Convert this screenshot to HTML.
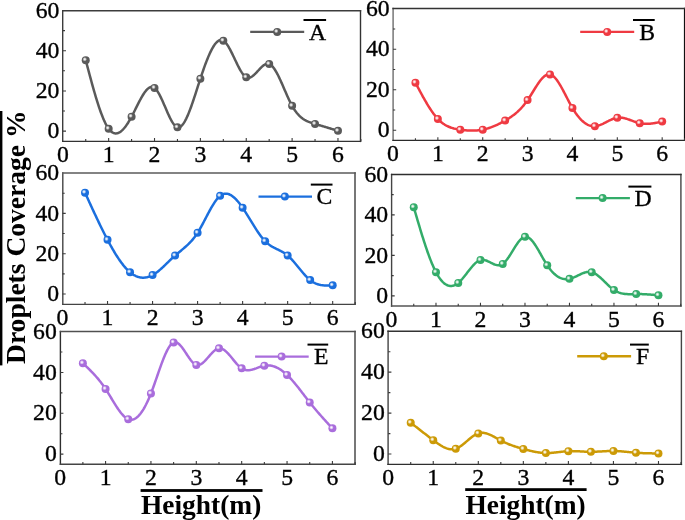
<!DOCTYPE html>
<html><head><meta charset="utf-8"><style>
html,body{margin:0;padding:0;background:#fff;}
svg{display:block;will-change:transform;}
text{font-family:"Liberation Serif",serif;font-size:23.7px;fill:#000;stroke:#000;stroke-width:0.35px;}
.bl{font-weight:bold;font-size:27.2px;stroke:none;}
</style></head><body>
<svg width="685" height="520" viewBox="0 0 685 520">
<defs><radialGradient id="hl"><stop offset="0" stop-color="#fff" stop-opacity="1"/><stop offset="0.35" stop-color="#fff" stop-opacity="0.8"/><stop offset="1" stop-color="#fff" stop-opacity="0"/></radialGradient></defs>
<rect width="685" height="520" fill="#fff"/>
<g>
<path d="M62.7 10V142.1" stroke="#3c3c3c" stroke-width="1.4"/>
<path d="M360.5 10V142.1" stroke="#333" stroke-width="1.4"/>
<path d="M62 10.7H361.2" stroke="#3c3c3c" stroke-width="1.4"/>
<path d="M62 141.4H361.2" stroke="#333" stroke-width="1.4"/>
<path d="M85.73 141.2v-2.2M108.66 141.2v-3.2M131.59 141.2v-2.2M154.52 141.2v-3.2M177.45 141.2v-2.2M200.38 141.2v-3.2M223.32 141.2v-2.2M246.25 141.2v-3.2M269.18 141.2v-2.2M292.11 141.2v-3.2M315.04 141.2v-2.2M337.97 141.2v-3.2M360.9 141.2v-2.2M62.8 131.15h3.2M62.8 111.04h2.2M62.8 90.93h3.2M62.8 70.82h2.2M62.8 50.72h3.2M62.8 30.61h2.2" stroke="#3a3a3a" stroke-width="1.1" fill="none"/>
<text x="62.8" y="161.8" text-anchor="middle">0</text>
<text x="108.66" y="161.8" text-anchor="middle">1</text>
<text x="154.52" y="161.8" text-anchor="middle">2</text>
<text x="200.38" y="161.8" text-anchor="middle">3</text>
<text x="246.25" y="161.8" text-anchor="middle">4</text>
<text x="292.11" y="161.8" text-anchor="middle">5</text>
<text x="337.97" y="161.8" text-anchor="middle">6</text>
<text x="59.4" y="138.35" text-anchor="end">0</text>
<text x="59.4" y="98.13" text-anchor="end">20</text>
<text x="59.4" y="57.92" text-anchor="end">40</text>
<text x="59.4" y="17.7" text-anchor="end">60</text>
<polyline points="85.73,60.17 86.36,62.57 87,64.97 87.63,67.37 88.26,69.76 88.89,72.14 89.52,74.51 90.16,76.87 90.79,79.2 91.42,81.52 92.05,83.82 92.68,86.1 93.32,88.35 93.95,90.57 94.58,92.76 95.21,94.92 95.85,97.04 96.48,99.13 97.11,101.17 97.74,103.18 98.37,105.13 99.01,107.05 99.64,108.91 100.27,110.72 100.9,112.48 101.54,114.18 102.17,115.82 102.8,117.4 103.43,118.92 104.06,120.37 104.7,121.75 105.33,123.07 105.96,124.31 106.59,125.47 107.22,126.56 107.86,127.57 108.49,128.5 109.12,129.34 109.75,130.1 110.39,130.77 111.02,131.37 111.65,131.88 112.28,132.32 112.91,132.68 113.55,132.97 114.18,133.19 114.81,133.33 115.44,133.41 116.08,133.41 116.71,133.35 117.34,133.23 117.97,133.04 118.6,132.79 119.24,132.48 119.87,132.11 120.5,131.69 121.13,131.21 121.76,130.67 122.4,130.09 123.03,129.45 123.66,128.76 124.29,128.03 124.93,127.25 125.56,126.43 126.19,125.57 126.82,124.66 127.45,123.71 128.09,122.73 128.72,121.71 129.35,120.66 129.98,119.57 130.62,118.45 131.25,117.31 131.88,116.13 132.51,114.93 133.14,113.71 133.78,112.47 134.41,111.21 135.04,109.95 135.67,108.68 136.3,107.41 136.94,106.14 137.57,104.88 138.2,103.63 138.83,102.4 139.47,101.18 140.1,99.99 140.73,98.82 141.36,97.68 141.99,96.58 142.63,95.52 143.26,94.5 143.89,93.52 144.52,92.6 145.16,91.73 145.79,90.92 146.42,90.17 147.05,89.49 147.68,88.88 148.32,88.35 148.95,87.89 149.58,87.52 150.21,87.24 150.84,87.04 151.48,86.94 152.11,86.94 152.74,87.04 153.37,87.25 154.01,87.57 154.64,88 155.27,88.55 155.9,89.21 156.53,89.98 157.17,90.83 157.8,91.78 158.43,92.81 159.06,93.92 159.7,95.09 160.33,96.33 160.96,97.62 161.59,98.95 162.22,100.33 162.86,101.74 163.49,103.17 164.12,104.63 164.75,106.1 165.39,107.57 166.02,109.04 166.65,110.5 167.28,111.95 167.91,113.38 168.55,114.77 169.18,116.13 169.81,117.45 170.44,118.71 171.07,119.92 171.71,121.06 172.34,122.14 172.97,123.13 173.6,124.04 174.24,124.85 174.87,125.57 175.5,126.18 176.13,126.68 176.76,127.06 177.4,127.31 178.03,127.43 178.66,127.41 179.29,127.28 179.93,127.01 180.56,126.63 181.19,126.14 181.82,125.54 182.45,124.83 183.09,124.02 183.72,123.11 184.35,122.11 184.98,121.02 185.61,119.85 186.25,118.6 186.88,117.27 187.51,115.87 188.14,114.4 188.78,112.87 189.41,111.28 190.04,109.64 190.67,107.95 191.3,106.21 191.94,104.42 192.57,102.6 193.2,100.75 193.83,98.87 194.47,96.96 195.1,95.03 195.73,93.09 196.36,91.13 196.99,89.17 197.63,87.2 198.26,85.23 198.89,83.26 199.52,81.31 200.15,79.37 200.79,77.44 201.42,75.54 202.05,73.66 202.68,71.8 203.32,69.97 203.95,68.17 204.58,66.41 205.21,64.68 205.84,62.99 206.48,61.33 207.11,59.72 207.74,58.16 208.37,56.64 209.01,55.17 209.64,53.76 210.27,52.4 210.9,51.09 211.53,49.85 212.17,48.67 212.8,47.55 213.43,46.5 214.06,45.52 214.69,44.61 215.33,43.77 215.96,43.02 216.59,42.34 217.22,41.74 217.86,41.23 218.49,40.8 219.12,40.46 219.75,40.22 220.38,40.07 221.02,40.01 221.65,40.06 222.28,40.2 222.91,40.45 223.55,40.8 224.18,41.26 224.81,41.82 225.44,42.47 226.07,43.22 226.71,44.04 227.34,44.93 227.97,45.9 228.6,46.93 229.23,48.02 229.87,49.16 230.5,50.35 231.13,51.57 231.76,52.83 232.4,54.12 233.03,55.43 233.66,56.75 234.29,58.08 234.92,59.42 235.56,60.76 236.19,62.08 236.82,63.4 237.45,64.69 238.09,65.95 238.72,67.19 239.35,68.38 239.98,69.53 240.61,70.63 241.25,71.68 241.88,72.66 242.51,73.57 243.14,74.41 243.77,75.17 244.41,75.85 245.04,76.43 245.67,76.91 246.3,77.29 246.94,77.56 247.57,77.73 248.2,77.8 248.83,77.77 249.46,77.67 250.1,77.48 250.73,77.22 251.36,76.89 251.99,76.5 252.63,76.05 253.26,75.56 253.89,75.02 254.52,74.44 255.15,73.82 255.79,73.18 256.42,72.52 257.05,71.85 257.68,71.16 258.31,70.47 258.95,69.79 259.58,69.11 260.21,68.44 260.84,67.8 261.48,67.18 262.11,66.6 262.74,66.05 263.37,65.55 264,65.09 264.64,64.69 265.27,64.36 265.9,64.09 266.53,63.89 267.17,63.77 267.8,63.74 268.43,63.79 269.06,63.95 269.69,64.2 270.33,64.56 270.96,65.01 271.59,65.55 272.22,66.18 272.86,66.89 273.49,67.68 274.12,68.55 274.75,69.48 275.38,70.48 276.02,71.54 276.65,72.66 277.28,73.83 277.91,75.04 278.54,76.31 279.18,77.61 279.81,78.94 280.44,80.31 281.07,81.7 281.71,83.12 282.34,84.55 282.97,86 283.6,87.46 284.23,88.92 284.87,90.38 285.5,91.84 286.13,93.3 286.76,94.73 287.4,96.16 288.03,97.56 288.66,98.94 289.29,100.28 289.92,101.6 290.56,102.87 291.19,104.1 291.82,105.29 292.45,106.42 293.08,107.51 293.72,108.54 294.35,109.52 294.98,110.45 295.61,111.34 296.25,112.19 296.88,112.99 297.51,113.74 298.14,114.46 298.77,115.14 299.41,115.78 300.04,116.39 300.67,116.96 301.3,117.5 301.94,118 302.57,118.48 303.2,118.93 303.83,119.35 304.46,119.74 305.1,120.11 305.73,120.46 306.36,120.79 306.99,121.09 307.62,121.38 308.26,121.65 308.89,121.91 309.52,122.15 310.15,122.38 310.79,122.6 311.42,122.81 312.05,123.01 312.68,123.21 313.31,123.4 313.95,123.59 314.58,123.77 315.21,123.96 315.84,124.14 316.48,124.33 317.11,124.51 317.74,124.7 318.37,124.89 319,125.08 319.64,125.26 320.27,125.45 320.9,125.64 321.53,125.83 322.16,126.02 322.8,126.21 323.43,126.4 324.06,126.59 324.69,126.78 325.33,126.97 325.96,127.17 326.59,127.36 327.22,127.55 327.85,127.74 328.49,127.94 329.12,128.13 329.75,128.32 330.38,128.51 331.02,128.71 331.65,128.9 332.28,129.1 332.91,129.29 333.54,129.48 334.18,129.68 334.81,129.87 335.44,130.07 336.07,130.26 336.7,130.46 337.34,130.65 337.97,130.84" fill="none" stroke="#5a5a5a" stroke-width="2.5" stroke-linejoin="round" stroke-linecap="round"/>
<circle cx="85.73" cy="60.17" r="4" fill="#5a5a5a"/><circle cx="84.73" cy="59.27" r="2.3" fill="url(#hl)"/>
<circle cx="108.66" cy="128.73" r="4" fill="#5a5a5a"/><circle cx="107.66" cy="127.83" r="2.3" fill="url(#hl)"/>
<circle cx="131.59" cy="116.67" r="4" fill="#5a5a5a"/><circle cx="130.59" cy="115.77" r="2.3" fill="url(#hl)"/>
<circle cx="154.52" cy="87.91" r="4" fill="#5a5a5a"/><circle cx="153.52" cy="87.01" r="2.3" fill="url(#hl)"/>
<circle cx="177.45" cy="127.33" r="4" fill="#5a5a5a"/><circle cx="176.45" cy="126.43" r="2.3" fill="url(#hl)"/>
<circle cx="200.38" cy="78.67" r="4" fill="#5a5a5a"/><circle cx="199.38" cy="77.77" r="2.3" fill="url(#hl)"/>
<circle cx="223.32" cy="40.66" r="4" fill="#5a5a5a"/><circle cx="222.32" cy="39.76" r="2.3" fill="url(#hl)"/>
<circle cx="246.25" cy="77.26" r="4" fill="#5a5a5a"/><circle cx="245.25" cy="76.36" r="2.3" fill="url(#hl)"/>
<circle cx="269.18" cy="63.99" r="4" fill="#5a5a5a"/><circle cx="268.18" cy="63.09" r="2.3" fill="url(#hl)"/>
<circle cx="292.11" cy="105.81" r="4" fill="#5a5a5a"/><circle cx="291.11" cy="104.91" r="2.3" fill="url(#hl)"/>
<circle cx="315.04" cy="123.91" r="4" fill="#5a5a5a"/><circle cx="314.04" cy="123.01" r="2.3" fill="url(#hl)"/>
<circle cx="337.97" cy="130.84" r="4" fill="#5a5a5a"/><circle cx="336.97" cy="129.94" r="2.3" fill="url(#hl)"/>
<path d="M250.2 31.9H304.2" stroke="#5a5a5a" stroke-width="2.4"/>
<circle cx="277.2" cy="31.9" r="4" fill="#5a5a5a"/><circle cx="276.2" cy="31" r="2.3" fill="url(#hl)"/>
<text x="309.1" y="39.8">A</text>
<rect x="303.5" y="19" width="22.6" height="2" fill="#000"/>
<path d="M393.1 7.8V141.05" stroke="#777" stroke-width="1.5"/>
<path d="M684.5 7.8V141.05" stroke="#111" stroke-width="1.2"/>
<path d="M392.35 8.5H685.1" stroke="#333" stroke-width="1.4"/>
<path d="M392.35 140.35H685.1" stroke="#2a2a2a" stroke-width="1.4"/>
<path d="M415.43 140.4v-2.2M437.86 140.4v-3.2M460.29 140.4v-2.2M482.72 140.4v-3.2M505.15 140.4v-2.2M527.58 140.4v-3.2M550.02 140.4v-2.2M572.45 140.4v-3.2M594.88 140.4v-2.2M617.31 140.4v-3.2M639.74 140.4v-2.2M662.17 140.4v-3.2M684.6 140.4v-2.2M393 130.28h3.2M393 110.03h2.2M393 89.78h3.2M393 69.54h2.2M393 49.29h3.2M393 29.05h2.2" stroke="#3a3a3a" stroke-width="1.1" fill="none"/>
<text x="393" y="161" text-anchor="middle">0</text>
<text x="437.86" y="161" text-anchor="middle">1</text>
<text x="482.72" y="161" text-anchor="middle">2</text>
<text x="527.58" y="161" text-anchor="middle">3</text>
<text x="572.45" y="161" text-anchor="middle">4</text>
<text x="617.31" y="161" text-anchor="middle">5</text>
<text x="662.17" y="161" text-anchor="middle">6</text>
<text x="389.6" y="137.48" text-anchor="end">0</text>
<text x="389.6" y="96.98" text-anchor="end">20</text>
<text x="389.6" y="56.49" text-anchor="end">40</text>
<text x="389.6" y="16" text-anchor="end">60</text>
<polyline points="415.43,82.7 416.05,83.87 416.67,85.04 417.29,86.21 417.9,87.37 418.52,88.53 419.14,89.69 419.76,90.85 420.38,91.99 421,93.14 421.61,94.27 422.23,95.4 422.85,96.52 423.47,97.63 424.09,98.73 424.71,99.81 425.33,100.89 425.94,101.96 426.56,103.01 427.18,104.04 427.8,105.06 428.42,106.07 429.04,107.06 429.65,108.03 430.27,108.99 430.89,109.92 431.51,110.84 432.13,111.74 432.75,112.61 433.36,113.46 433.98,114.3 434.6,115.1 435.22,115.89 435.84,116.64 436.46,117.38 437.07,118.08 437.69,118.76 438.31,119.41 438.93,120.03 439.55,120.63 440.17,121.2 440.78,121.74 441.4,122.26 442.02,122.75 442.64,123.22 443.26,123.67 443.88,124.09 444.5,124.5 445.11,124.88 445.73,125.24 446.35,125.58 446.97,125.91 447.59,126.21 448.21,126.5 448.82,126.78 449.44,127.03 450.06,127.27 450.68,127.5 451.3,127.71 451.92,127.91 452.53,128.1 453.15,128.27 453.77,128.44 454.39,128.59 455.01,128.73 455.63,128.87 456.24,129 456.86,129.12 457.48,129.23 458.1,129.33 458.72,129.43 459.34,129.53 459.96,129.62 460.57,129.71 461.19,129.79 461.81,129.88 462.43,129.95 463.05,130.03 463.67,130.1 464.28,130.17 464.9,130.23 465.52,130.29 466.14,130.35 466.76,130.4 467.38,130.44 467.99,130.48 468.61,130.52 469.23,130.55 469.85,130.58 470.47,130.6 471.09,130.61 471.7,130.62 472.32,130.62 472.94,130.62 473.56,130.61 474.18,130.6 474.8,130.58 475.41,130.55 476.03,130.51 476.65,130.47 477.27,130.42 477.89,130.37 478.51,130.31 479.13,130.24 479.74,130.16 480.36,130.07 480.98,129.98 481.6,129.88 482.22,129.77 482.84,129.65 483.45,129.52 484.07,129.39 484.69,129.24 485.31,129.09 485.93,128.93 486.55,128.76 487.16,128.59 487.78,128.4 488.4,128.21 489.02,128.01 489.64,127.81 490.26,127.6 490.87,127.38 491.49,127.15 492.11,126.91 492.73,126.67 493.35,126.42 493.97,126.17 494.58,125.91 495.2,125.64 495.82,125.37 496.44,125.09 497.06,124.8 497.68,124.51 498.3,124.22 498.91,123.91 499.53,123.6 500.15,123.29 500.77,122.97 501.39,122.64 502.01,122.31 502.62,121.98 503.24,121.64 503.86,121.29 504.48,120.95 505.1,120.59 505.72,120.23 506.33,119.87 506.95,119.5 507.57,119.12 508.19,118.74 508.81,118.35 509.43,117.96 510.04,117.55 510.66,117.13 511.28,116.71 511.9,116.28 512.52,115.83 513.14,115.37 513.76,114.91 514.37,114.43 514.99,113.93 515.61,113.42 516.23,112.9 516.85,112.37 517.47,111.81 518.08,111.25 518.7,110.66 519.32,110.06 519.94,109.44 520.56,108.81 521.18,108.15 521.79,107.47 522.41,106.78 523.03,106.06 523.65,105.33 524.27,104.57 524.89,103.79 525.5,102.99 526.12,102.16 526.74,101.31 527.36,100.43 527.98,99.53 528.6,98.61 529.21,97.67 529.83,96.71 530.45,95.73 531.07,94.74 531.69,93.75 532.31,92.75 532.93,91.74 533.54,90.74 534.16,89.74 534.78,88.74 535.4,87.75 536.02,86.78 536.64,85.82 537.25,84.88 537.87,83.96 538.49,83.06 539.11,82.19 539.73,81.35 540.35,80.54 540.96,79.77 541.58,79.04 542.2,78.34 542.82,77.7 543.44,77.09 544.06,76.54 544.67,76.05 545.29,75.61 545.91,75.22 546.53,74.9 547.15,74.65 547.77,74.46 548.39,74.34 549,74.3 549.62,74.33 550.24,74.45 550.86,74.64 551.48,74.91 552.1,75.26 552.71,75.68 553.33,76.16 553.95,76.71 554.57,77.32 555.19,77.99 555.81,78.72 556.42,79.5 557.04,80.33 557.66,81.2 558.28,82.12 558.9,83.08 559.52,84.07 560.13,85.1 560.75,86.17 561.37,87.25 561.99,88.37 562.61,89.5 563.23,90.66 563.84,91.83 564.46,93.01 565.08,94.2 565.7,95.4 566.32,96.6 566.94,97.8 567.56,99 568.17,100.19 568.79,101.37 569.41,102.54 570.03,103.7 570.65,104.83 571.27,105.95 571.88,107.04 572.5,108.1 573.12,109.13 573.74,110.14 574.36,111.11 574.98,112.05 575.59,112.96 576.21,113.84 576.83,114.69 577.45,115.51 578.07,116.3 578.69,117.06 579.3,117.78 579.92,118.48 580.54,119.15 581.16,119.79 581.78,120.4 582.4,120.97 583.02,121.52 583.63,122.04 584.25,122.53 584.87,122.98 585.49,123.41 586.11,123.81 586.73,124.18 587.34,124.51 587.96,124.82 588.58,125.1 589.2,125.34 589.82,125.56 590.44,125.75 591.05,125.91 591.67,126.04 592.29,126.14 592.91,126.21 593.53,126.24 594.15,126.25 594.76,126.23 595.38,126.19 596,126.11 596.62,126 597.24,125.87 597.86,125.72 598.47,125.54 599.09,125.35 599.71,125.13 600.33,124.9 600.95,124.65 601.57,124.39 602.19,124.12 602.8,123.83 603.42,123.54 604.04,123.23 604.66,122.92 605.28,122.61 605.9,122.29 606.51,121.97 607.13,121.65 607.75,121.33 608.37,121.01 608.99,120.7 609.61,120.4 610.22,120.1 610.84,119.81 611.46,119.53 612.08,119.26 612.7,119.01 613.32,118.78 613.93,118.56 614.55,118.35 615.17,118.17 615.79,118.01 616.41,117.88 617.03,117.77 617.64,117.68 618.26,117.62 618.88,117.59 619.5,117.58 620.12,117.59 620.74,117.63 621.36,117.68 621.97,117.76 622.59,117.85 623.21,117.96 623.83,118.09 624.45,118.23 625.07,118.39 625.68,118.56 626.3,118.73 626.92,118.92 627.54,119.12 628.16,119.33 628.78,119.54 629.39,119.76 630.01,119.99 630.63,120.21 631.25,120.44 631.87,120.67 632.49,120.9 633.1,121.13 633.72,121.36 634.34,121.58 634.96,121.8 635.58,122.01 636.2,122.21 636.82,122.41 637.43,122.6 638.05,122.77 638.67,122.94 639.29,123.09 639.91,123.23 640.53,123.35 641.14,123.46 641.76,123.55 642.38,123.64 643,123.7 643.62,123.76 644.24,123.8 644.85,123.84 645.47,123.86 646.09,123.87 646.71,123.86 647.33,123.85 647.95,123.83 648.56,123.8 649.18,123.76 649.8,123.71 650.42,123.66 651.04,123.59 651.66,123.52 652.27,123.44 652.89,123.36 653.51,123.26 654.13,123.17 654.75,123.07 655.37,122.96 655.99,122.85 656.6,122.73 657.22,122.61 657.84,122.49 658.46,122.36 659.08,122.23 659.7,122.1 660.31,121.97 660.93,121.84 661.55,121.71 662.17,121.57" fill="none" stroke="#ef3a42" stroke-width="2.5" stroke-linejoin="round" stroke-linecap="round"/>
<circle cx="415.43" cy="82.7" r="4" fill="#ef3a42"/><circle cx="414.43" cy="81.8" r="2.3" fill="url(#hl)"/>
<circle cx="437.86" cy="118.94" r="4" fill="#ef3a42"/><circle cx="436.86" cy="118.04" r="2.3" fill="url(#hl)"/>
<circle cx="460.29" cy="129.67" r="4" fill="#ef3a42"/><circle cx="459.29" cy="128.77" r="2.3" fill="url(#hl)"/>
<circle cx="482.72" cy="129.67" r="4" fill="#ef3a42"/><circle cx="481.72" cy="128.77" r="2.3" fill="url(#hl)"/>
<circle cx="505.15" cy="120.56" r="4" fill="#ef3a42"/><circle cx="504.15" cy="119.66" r="2.3" fill="url(#hl)"/>
<circle cx="527.58" cy="100.11" r="4" fill="#ef3a42"/><circle cx="526.58" cy="99.21" r="2.3" fill="url(#hl)"/>
<circle cx="550.02" cy="74.4" r="4" fill="#ef3a42"/><circle cx="549.02" cy="73.5" r="2.3" fill="url(#hl)"/>
<circle cx="572.45" cy="108.01" r="4" fill="#ef3a42"/><circle cx="571.45" cy="107.11" r="2.3" fill="url(#hl)"/>
<circle cx="594.88" cy="126.23" r="4" fill="#ef3a42"/><circle cx="593.88" cy="125.33" r="2.3" fill="url(#hl)"/>
<circle cx="617.31" cy="117.72" r="4" fill="#ef3a42"/><circle cx="616.31" cy="116.82" r="2.3" fill="url(#hl)"/>
<circle cx="639.74" cy="123.19" r="4" fill="#ef3a42"/><circle cx="638.74" cy="122.29" r="2.3" fill="url(#hl)"/>
<circle cx="662.17" cy="121.57" r="4" fill="#ef3a42"/><circle cx="661.17" cy="120.67" r="2.3" fill="url(#hl)"/>
<path d="M580.2 31.9H634.2" stroke="#ef3a42" stroke-width="2.4"/>
<circle cx="607.2" cy="31.9" r="4" fill="#ef3a42"/><circle cx="606.2" cy="31" r="2.3" fill="url(#hl)"/>
<text x="639.3" y="39.8">B</text>
<rect x="633" y="19" width="21.7" height="2" fill="#000"/>
<path d="M62.8 172.2V305.1" stroke="#444" stroke-width="1.4"/>
<path d="M355 172.2V305.1" stroke="#555" stroke-width="1.6"/>
<path d="M62.1 173H355.8" stroke="#5a5a5a" stroke-width="1.6"/>
<path d="M62.1 304.4H355.8" stroke="#444" stroke-width="1.4"/>
<path d="M85.02 304.1v-2.2M107.53 304.1v-3.2M130.05 304.1v-2.2M152.56 304.1v-3.2M175.08 304.1v-2.2M197.59 304.1v-3.2M220.11 304.1v-2.2M242.62 304.1v-3.2M265.14 304.1v-2.2M287.65 304.1v-3.2M310.17 304.1v-2.2M332.68 304.1v-3.2M355.2 304.1v-2.2M62.5 294.02h3.2M62.5 273.87h2.2M62.5 253.72h3.2M62.5 233.56h2.2M62.5 213.41h3.2M62.5 193.25h2.2" stroke="#3a3a3a" stroke-width="1.1" fill="none"/>
<text x="62.5" y="324.7" text-anchor="middle">0</text>
<text x="107.53" y="324.7" text-anchor="middle">1</text>
<text x="152.56" y="324.7" text-anchor="middle">2</text>
<text x="197.59" y="324.7" text-anchor="middle">3</text>
<text x="242.62" y="324.7" text-anchor="middle">4</text>
<text x="287.65" y="324.7" text-anchor="middle">5</text>
<text x="332.68" y="324.7" text-anchor="middle">6</text>
<text x="59.1" y="301.22" text-anchor="end">0</text>
<text x="59.1" y="260.92" text-anchor="end">20</text>
<text x="59.1" y="220.61" text-anchor="end">40</text>
<text x="59.1" y="180.3" text-anchor="end">60</text>
<polyline points="85.02,192.65 85.64,194.01 86.26,195.37 86.88,196.74 87.5,198.1 88.12,199.46 88.74,200.81 89.36,202.17 89.98,203.53 90.6,204.88 91.22,206.23 91.84,207.57 92.46,208.92 93.08,210.26 93.71,211.59 94.33,212.93 94.95,214.26 95.57,215.58 96.19,216.9 96.81,218.21 97.43,219.52 98.05,220.82 98.67,222.12 99.29,223.41 99.91,224.69 100.53,225.97 101.15,227.24 101.77,228.5 102.4,229.76 103.02,231.01 103.64,232.25 104.26,233.48 104.88,234.7 105.5,235.91 106.12,237.11 106.74,238.31 107.36,239.49 107.98,240.66 108.6,241.82 109.22,242.97 109.84,244.11 110.47,245.24 111.09,246.36 111.71,247.46 112.33,248.55 112.95,249.63 113.57,250.69 114.19,251.74 114.81,252.77 115.43,253.79 116.05,254.79 116.67,255.77 117.29,256.74 117.91,257.69 118.53,258.63 119.16,259.54 119.78,260.44 120.4,261.32 121.02,262.18 121.64,263.02 122.26,263.84 122.88,264.64 123.5,265.42 124.12,266.18 124.74,266.91 125.36,267.63 125.98,268.32 126.6,268.99 127.22,269.63 127.85,270.25 128.47,270.85 129.09,271.42 129.71,271.97 130.33,272.49 130.95,272.99 131.57,273.46 132.19,273.9 132.81,274.32 133.43,274.71 134.05,275.08 134.67,275.43 135.29,275.74 135.91,276.04 136.54,276.31 137.16,276.55 137.78,276.77 138.4,276.97 139.02,277.14 139.64,277.29 140.26,277.41 140.88,277.51 141.5,277.59 142.12,277.64 142.74,277.67 143.36,277.67 143.98,277.65 144.6,277.61 145.23,277.55 145.85,277.46 146.47,277.35 147.09,277.22 147.71,277.06 148.33,276.88 148.95,276.68 149.57,276.46 150.19,276.21 150.81,275.95 151.43,275.66 152.05,275.35 152.67,275.02 153.3,274.66 153.92,274.29 154.54,273.9 155.16,273.48 155.78,273.05 156.4,272.6 157.02,272.14 157.64,271.66 158.26,271.17 158.88,270.66 159.5,270.14 160.12,269.61 160.74,269.07 161.36,268.52 161.99,267.95 162.61,267.38 163.23,266.81 163.85,266.22 164.47,265.63 165.09,265.04 165.71,264.44 166.33,263.84 166.95,263.23 167.57,262.63 168.19,262.02 168.81,261.42 169.43,260.81 170.05,260.21 170.68,259.61 171.3,259.02 171.92,258.43 172.54,257.84 173.16,257.27 173.78,256.69 174.4,256.13 175.02,255.58 175.64,255.04 176.26,254.5 176.88,253.97 177.5,253.45 178.12,252.94 178.74,252.43 179.37,251.92 179.99,251.42 180.61,250.91 181.23,250.41 181.85,249.9 182.47,249.39 183.09,248.87 183.71,248.35 184.33,247.83 184.95,247.29 185.57,246.75 186.19,246.19 186.81,245.63 187.43,245.05 188.06,244.46 188.68,243.85 189.3,243.23 189.92,242.59 190.54,241.93 191.16,241.25 191.78,240.55 192.4,239.83 193.02,239.08 193.64,238.31 194.26,237.52 194.88,236.69 195.5,235.84 196.13,234.96 196.75,234.05 197.37,233.11 197.99,232.13 198.61,231.12 199.23,230.09 199.85,229.02 200.47,227.93 201.09,226.82 201.71,225.7 202.33,224.55 202.95,223.39 203.57,222.22 204.19,221.04 204.82,219.86 205.44,218.67 206.06,217.48 206.68,216.29 207.3,215.1 207.92,213.93 208.54,212.76 209.16,211.6 209.78,210.46 210.4,209.33 211.02,208.22 211.64,207.14 212.26,206.08 212.88,205.05 213.51,204.04 214.13,203.07 214.75,202.14 215.37,201.24 215.99,200.38 216.61,199.56 217.23,198.79 217.85,198.06 218.47,197.39 219.09,196.77 219.71,196.2 220.33,195.7 220.95,195.25 221.57,194.86 222.2,194.52 222.82,194.24 223.44,194.02 224.06,193.85 224.68,193.73 225.3,193.66 225.92,193.64 226.54,193.67 227.16,193.75 227.78,193.88 228.4,194.05 229.02,194.26 229.64,194.52 230.27,194.82 230.89,195.16 231.51,195.54 232.13,195.96 232.75,196.41 233.37,196.9 233.99,197.43 234.61,197.99 235.23,198.59 235.85,199.21 236.47,199.87 237.09,200.55 237.71,201.26 238.33,202 238.96,202.77 239.58,203.56 240.2,204.38 240.82,205.21 241.44,206.07 242.06,206.95 242.68,207.85 243.3,208.76 243.92,209.69 244.54,210.64 245.16,211.6 245.78,212.57 246.4,213.56 247.02,214.55 247.65,215.55 248.27,216.56 248.89,217.57 249.51,218.59 250.13,219.61 250.75,220.63 251.37,221.65 251.99,222.66 252.61,223.68 253.23,224.69 253.85,225.69 254.47,226.69 255.09,227.67 255.71,228.65 256.34,229.62 256.96,230.57 257.58,231.51 258.2,232.43 258.82,233.33 259.44,234.22 260.06,235.08 260.68,235.92 261.3,236.74 261.92,237.54 262.54,238.31 263.16,239.05 263.78,239.77 264.4,240.45 265.03,241.1 265.65,241.72 266.27,242.31 266.89,242.87 267.51,243.4 268.13,243.9 268.75,244.38 269.37,244.84 269.99,245.27 270.61,245.68 271.23,246.08 271.85,246.45 272.47,246.82 273.1,247.16 273.72,247.5 274.34,247.83 274.96,248.15 275.58,248.46 276.2,248.76 276.82,249.07 277.44,249.37 278.06,249.67 278.68,249.97 279.3,250.28 279.92,250.59 280.54,250.9 281.16,251.23 281.79,251.56 282.41,251.91 283.03,252.27 283.65,252.64 284.27,253.03 284.89,253.44 285.51,253.87 286.13,254.32 286.75,254.8 287.37,255.29 287.99,255.82 288.61,256.37 289.23,256.95 289.85,257.54 290.48,258.16 291.1,258.81 291.72,259.47 292.34,260.14 292.96,260.83 293.58,261.54 294.2,262.26 294.82,262.99 295.44,263.73 296.06,264.47 296.68,265.23 297.3,265.98 297.92,266.75 298.54,267.51 299.17,268.27 299.79,269.03 300.41,269.79 301.03,270.54 301.65,271.29 302.27,272.03 302.89,272.76 303.51,273.48 304.13,274.19 304.75,274.88 305.37,275.56 305.99,276.22 306.61,276.87 307.23,277.49 307.86,278.09 308.48,278.67 309.1,279.22 309.72,279.75 310.34,280.25 310.96,280.72 311.58,281.17 312.2,281.58 312.82,281.97 313.44,282.34 314.06,282.68 314.68,282.99 315.3,283.29 315.93,283.56 316.55,283.81 317.17,284.04 317.79,284.24 318.41,284.43 319.03,284.61 319.65,284.76 320.27,284.9 320.89,285.02 321.51,285.12 322.13,285.22 322.75,285.29 323.37,285.36 323.99,285.41 324.62,285.46 325.24,285.49 325.86,285.51 326.48,285.52 327.1,285.53 327.72,285.53 328.34,285.52 328.96,285.51 329.58,285.49 330.2,285.47 330.82,285.44 331.44,285.42 332.06,285.39 332.68,285.36" fill="none" stroke="#1b6fde" stroke-width="2.5" stroke-linejoin="round" stroke-linecap="round"/>
<circle cx="85.02" cy="192.65" r="4" fill="#1b6fde"/><circle cx="84.02" cy="191.75" r="2.3" fill="url(#hl)"/>
<circle cx="107.53" cy="239.81" r="4" fill="#1b6fde"/><circle cx="106.53" cy="238.91" r="2.3" fill="url(#hl)"/>
<circle cx="130.05" cy="272.26" r="4" fill="#1b6fde"/><circle cx="129.05" cy="271.36" r="2.3" fill="url(#hl)"/>
<circle cx="152.56" cy="275.08" r="4" fill="#1b6fde"/><circle cx="151.56" cy="274.18" r="2.3" fill="url(#hl)"/>
<circle cx="175.08" cy="255.53" r="4" fill="#1b6fde"/><circle cx="174.08" cy="254.63" r="2.3" fill="url(#hl)"/>
<circle cx="197.59" cy="232.76" r="4" fill="#1b6fde"/><circle cx="196.59" cy="231.86" r="2.3" fill="url(#hl)"/>
<circle cx="220.11" cy="195.87" r="4" fill="#1b6fde"/><circle cx="219.11" cy="194.97" r="2.3" fill="url(#hl)"/>
<circle cx="242.62" cy="207.76" r="4" fill="#1b6fde"/><circle cx="241.62" cy="206.86" r="2.3" fill="url(#hl)"/>
<circle cx="265.14" cy="241.22" r="4" fill="#1b6fde"/><circle cx="264.14" cy="240.32" r="2.3" fill="url(#hl)"/>
<circle cx="287.65" cy="255.53" r="4" fill="#1b6fde"/><circle cx="286.65" cy="254.63" r="2.3" fill="url(#hl)"/>
<circle cx="310.17" cy="280.12" r="4" fill="#1b6fde"/><circle cx="309.17" cy="279.22" r="2.3" fill="url(#hl)"/>
<circle cx="332.68" cy="285.36" r="4" fill="#1b6fde"/><circle cx="331.68" cy="284.46" r="2.3" fill="url(#hl)"/>
<path d="M258.5 196.6H312" stroke="#1b6fde" stroke-width="2.4"/>
<circle cx="284.9" cy="196.6" r="4" fill="#1b6fde"/><circle cx="283.9" cy="195.7" r="2.3" fill="url(#hl)"/>
<text x="316.6" y="204">C</text>
<rect x="310.8" y="183.6" width="21.7" height="2" fill="#000"/>
<path d="M391.6 173.8V306.85" stroke="#444" stroke-width="1.4"/>
<path d="M680.9 173.8V306.85" stroke="#505050" stroke-width="1.5"/>
<path d="M390.9 174.5H681.65" stroke="#2e2e2e" stroke-width="1.4"/>
<path d="M390.9 306.05H681.65" stroke="#555" stroke-width="1.6"/>
<path d="M413.75 306v-2.2M435.99 306v-3.2M458.24 306v-2.2M480.48 306v-3.2M502.73 306v-2.2M524.98 306v-3.2M547.22 306v-2.2M569.47 306v-3.2M591.72 306v-2.2M613.96 306v-3.2M636.21 306v-2.2M658.45 306v-3.2M680.7 306v-2.2M391.5 295.88h3.2M391.5 275.63h2.2M391.5 255.38h3.2M391.5 235.14h2.2M391.5 214.89h3.2M391.5 194.65h2.2" stroke="#3a3a3a" stroke-width="1.1" fill="none"/>
<text x="391.5" y="326.6" text-anchor="middle">0</text>
<text x="435.99" y="326.6" text-anchor="middle">1</text>
<text x="480.48" y="326.6" text-anchor="middle">2</text>
<text x="524.98" y="326.6" text-anchor="middle">3</text>
<text x="569.47" y="326.6" text-anchor="middle">4</text>
<text x="613.96" y="326.6" text-anchor="middle">5</text>
<text x="658.45" y="326.6" text-anchor="middle">6</text>
<text x="388.1" y="303.08" text-anchor="end">0</text>
<text x="388.1" y="262.58" text-anchor="end">20</text>
<text x="388.1" y="222.09" text-anchor="end">40</text>
<text x="388.1" y="181.6" text-anchor="end">60</text>
<polyline points="413.75,207.2 414.36,209.3 414.97,211.41 415.59,213.51 416.2,215.6 416.81,217.7 417.43,219.78 418.04,221.85 418.65,223.92 419.27,225.97 419.88,228.01 420.49,230.04 421.11,232.05 421.72,234.04 422.33,236.02 422.95,237.97 423.56,239.91 424.17,241.82 424.79,243.7 425.4,245.56 426.01,247.4 426.63,249.2 427.24,250.98 427.85,252.72 428.47,254.43 429.08,256.11 429.69,257.75 430.31,259.35 430.92,260.91 431.53,262.44 432.15,263.92 432.76,265.36 433.37,266.76 433.99,268.11 434.6,269.41 435.21,270.67 435.83,271.87 436.44,273.02 437.05,274.12 437.66,275.17 438.28,276.17 438.89,277.12 439.5,278.02 440.12,278.87 440.73,279.67 441.34,280.41 441.96,281.11 442.57,281.77 443.18,282.37 443.8,282.92 444.41,283.43 445.02,283.89 445.64,284.3 446.25,284.67 446.86,284.99 447.48,285.26 448.09,285.49 448.7,285.67 449.32,285.81 449.93,285.9 450.54,285.95 451.16,285.96 451.77,285.92 452.38,285.83 453,285.71 453.61,285.54 454.22,285.33 454.84,285.07 455.45,284.78 456.06,284.44 456.68,284.06 457.29,283.65 457.9,283.19 458.52,282.69 459.13,282.15 459.74,281.58 460.36,280.97 460.97,280.33 461.58,279.66 462.2,278.97 462.81,278.26 463.42,277.53 464.04,276.78 464.65,276.01 465.26,275.23 465.88,274.45 466.49,273.66 467.1,272.86 467.72,272.07 468.33,271.27 468.94,270.49 469.56,269.7 470.17,268.93 470.78,268.18 471.4,267.43 472.01,266.71 472.62,266.01 473.24,265.33 473.85,264.67 474.46,264.05 475.08,263.46 475.69,262.9 476.3,262.38 476.92,261.9 477.53,261.46 478.14,261.07 478.76,260.73 479.37,260.43 479.98,260.19 480.6,260.01 481.21,259.89 481.82,259.82 482.44,259.8 483.05,259.82 483.66,259.89 484.28,260 484.89,260.15 485.5,260.33 486.12,260.54 486.73,260.77 487.34,261.02 487.96,261.3 488.57,261.59 489.18,261.89 489.8,262.19 490.41,262.5 491.02,262.81 491.64,263.12 492.25,263.42 492.86,263.71 493.48,263.98 494.09,264.24 494.7,264.47 495.32,264.68 495.93,264.86 496.54,265.01 497.16,265.13 497.77,265.2 498.38,265.23 499,265.21 499.61,265.14 500.22,265.02 500.84,264.84 501.45,264.6 502.06,264.3 502.68,263.93 503.29,263.48 503.9,262.97 504.51,262.39 505.13,261.75 505.74,261.06 506.35,260.32 506.97,259.53 507.58,258.7 508.19,257.84 508.81,256.94 509.42,256.01 510.03,255.06 510.65,254.09 511.26,253.11 511.87,252.11 512.49,251.11 513.1,250.11 513.71,249.11 514.33,248.12 514.94,247.14 515.55,246.18 516.17,245.24 516.78,244.33 517.39,243.44 518.01,242.59 518.62,241.78 519.23,241.01 519.85,240.29 520.46,239.62 521.07,239.01 521.69,238.47 522.3,237.98 522.91,237.57 523.53,237.23 524.14,236.97 524.75,236.8 525.37,236.71 525.98,236.71 526.59,236.8 527.21,236.97 527.82,237.21 528.43,237.53 529.05,237.92 529.66,238.37 530.27,238.89 530.89,239.47 531.5,240.11 532.11,240.8 532.73,241.55 533.34,242.34 533.95,243.17 534.57,244.04 535.18,244.95 535.79,245.89 536.41,246.87 537.02,247.87 537.63,248.89 538.25,249.93 538.86,250.99 539.47,252.06 540.09,253.15 540.7,254.23 541.31,255.32 541.93,256.42 542.54,257.5 543.15,258.58 543.77,259.65 544.38,260.7 544.99,261.74 545.61,262.75 546.22,263.74 546.83,264.71 547.45,265.64 548.06,266.54 548.67,267.41 549.29,268.24 549.9,269.04 550.51,269.81 551.13,270.54 551.74,271.25 552.35,271.92 552.97,272.56 553.58,273.17 554.19,273.75 554.81,274.3 555.42,274.82 556.03,275.31 556.65,275.77 557.26,276.19 557.87,276.59 558.49,276.96 559.1,277.3 559.71,277.61 560.33,277.9 560.94,278.15 561.55,278.38 562.17,278.58 562.78,278.75 563.39,278.89 564.01,279 564.62,279.09 565.23,279.16 565.85,279.19 566.46,279.2 567.07,279.18 567.69,279.14 568.3,279.07 568.91,278.98 569.52,278.86 570.14,278.71 570.75,278.55 571.36,278.36 571.98,278.15 572.59,277.93 573.2,277.69 573.82,277.43 574.43,277.17 575.04,276.89 575.66,276.6 576.27,276.31 576.88,276.02 577.5,275.72 578.11,275.42 578.72,275.11 579.34,274.82 579.95,274.52 580.56,274.24 581.18,273.96 581.79,273.69 582.4,273.43 583.02,273.18 583.63,272.95 584.24,272.74 584.86,272.54 585.47,272.37 586.08,272.22 586.7,272.09 587.31,271.99 587.92,271.92 588.54,271.87 589.15,271.86 589.76,271.88 590.38,271.94 590.99,272.03 591.6,272.16 592.22,272.33 592.83,272.54 593.44,272.79 594.06,273.08 594.67,273.39 595.28,273.74 595.9,274.12 596.51,274.53 597.12,274.97 597.74,275.43 598.35,275.91 598.96,276.41 599.58,276.93 600.19,277.47 600.8,278.02 601.42,278.59 602.03,279.16 602.64,279.75 603.26,280.34 603.87,280.95 604.48,281.55 605.1,282.16 605.71,282.76 606.32,283.37 606.94,283.97 607.55,284.56 608.16,285.15 608.78,285.73 609.39,286.3 610,286.86 610.62,287.4 611.23,287.92 611.84,288.43 612.46,288.91 613.07,289.38 613.68,289.81 614.3,290.23 614.91,290.61 615.52,290.98 616.14,291.31 616.75,291.63 617.36,291.92 617.98,292.18 618.59,292.43 619.2,292.66 619.82,292.86 620.43,293.05 621.04,293.22 621.66,293.37 622.27,293.51 622.88,293.63 623.5,293.74 624.11,293.83 624.72,293.91 625.34,293.97 625.95,294.03 626.56,294.07 627.18,294.11 627.79,294.14 628.4,294.16 629.02,294.17 629.63,294.17 630.24,294.17 630.86,294.17 631.47,294.16 632.08,294.15 632.7,294.13 633.31,294.12 633.92,294.1 634.54,294.09 635.15,294.07 635.76,294.06 636.37,294.05 636.99,294.05 637.6,294.04 638.21,294.05 638.83,294.05 639.44,294.06 640.05,294.07 640.67,294.08 641.28,294.09 641.89,294.11 642.51,294.13 643.12,294.16 643.73,294.18 644.35,294.21 644.96,294.24 645.57,294.27 646.19,294.31 646.8,294.34 647.41,294.38 648.03,294.42 648.64,294.46 649.25,294.51 649.87,294.55 650.48,294.6 651.09,294.64 651.71,294.69 652.32,294.74 652.93,294.79 653.55,294.84 654.16,294.89 654.77,294.95 655.39,295 656,295.05 656.61,295.11 657.23,295.16 657.84,295.22 658.45,295.27" fill="none" stroke="#33ac69" stroke-width="2.5" stroke-linejoin="round" stroke-linecap="round"/>
<circle cx="413.75" cy="207.2" r="4" fill="#33ac69"/><circle cx="412.75" cy="206.3" r="2.3" fill="url(#hl)"/>
<circle cx="435.99" cy="272.19" r="4" fill="#33ac69"/><circle cx="434.99" cy="271.29" r="2.3" fill="url(#hl)"/>
<circle cx="458.24" cy="282.92" r="4" fill="#33ac69"/><circle cx="457.24" cy="282.02" r="2.3" fill="url(#hl)"/>
<circle cx="480.48" cy="260.04" r="4" fill="#33ac69"/><circle cx="479.48" cy="259.14" r="2.3" fill="url(#hl)"/>
<circle cx="502.73" cy="263.89" r="4" fill="#33ac69"/><circle cx="501.73" cy="262.99" r="2.3" fill="url(#hl)"/>
<circle cx="524.98" cy="236.76" r="4" fill="#33ac69"/><circle cx="523.98" cy="235.86" r="2.3" fill="url(#hl)"/>
<circle cx="547.22" cy="265.31" r="4" fill="#33ac69"/><circle cx="546.22" cy="264.41" r="2.3" fill="url(#hl)"/>
<circle cx="569.47" cy="278.87" r="4" fill="#33ac69"/><circle cx="568.47" cy="277.97" r="2.3" fill="url(#hl)"/>
<circle cx="591.72" cy="272.19" r="4" fill="#33ac69"/><circle cx="590.72" cy="271.29" r="2.3" fill="url(#hl)"/>
<circle cx="613.96" cy="290.01" r="4" fill="#33ac69"/><circle cx="612.96" cy="289.11" r="2.3" fill="url(#hl)"/>
<circle cx="636.21" cy="294.05" r="4" fill="#33ac69"/><circle cx="635.21" cy="293.15" r="2.3" fill="url(#hl)"/>
<circle cx="658.45" cy="295.27" r="4" fill="#33ac69"/><circle cx="657.45" cy="294.37" r="2.3" fill="url(#hl)"/>
<path d="M575.8 198.1H629.9" stroke="#33ac69" stroke-width="2.4"/>
<circle cx="602.6" cy="198.1" r="4" fill="#33ac69"/><circle cx="601.6" cy="197.2" r="2.3" fill="url(#hl)"/>
<text x="634.6" y="205.8">D</text>
<rect x="628.4" y="185.6" width="23" height="2" fill="#000"/>
<path d="M60.4 330.85V465" stroke="#2e2e2e" stroke-width="1.4"/>
<path d="M355 330.85V465" stroke="#555" stroke-width="1.6"/>
<path d="M59.7 331.6H355.8" stroke="#505050" stroke-width="1.5"/>
<path d="M59.7 464.3H355.8" stroke="#444" stroke-width="1.4"/>
<path d="M82.88 464.3v-2.2M105.57 464.3v-3.2M128.25 464.3v-2.2M150.94 464.3v-3.2M173.62 464.3v-2.2M196.31 464.3v-3.2M218.99 464.3v-2.2M241.68 464.3v-3.2M264.36 464.3v-2.2M287.05 464.3v-3.2M309.73 464.3v-2.2M332.42 464.3v-3.2M355.1 464.3v-2.2M60.2 454.09h3.2M60.2 433.68h2.2M60.2 413.26h3.2M60.2 392.85h2.2M60.2 372.43h3.2M60.2 352.02h2.2" stroke="#3a3a3a" stroke-width="1.1" fill="none"/>
<text x="60.2" y="484.9" text-anchor="middle">0</text>
<text x="105.57" y="484.9" text-anchor="middle">1</text>
<text x="150.94" y="484.9" text-anchor="middle">2</text>
<text x="196.31" y="484.9" text-anchor="middle">3</text>
<text x="241.68" y="484.9" text-anchor="middle">4</text>
<text x="287.05" y="484.9" text-anchor="middle">5</text>
<text x="332.42" y="484.9" text-anchor="middle">6</text>
<text x="56.8" y="461.29" text-anchor="end">0</text>
<text x="56.8" y="420.46" text-anchor="end">20</text>
<text x="56.8" y="379.63" text-anchor="end">40</text>
<text x="56.8" y="338.8" text-anchor="end">60</text>
<polyline points="82.88,363.24 83.51,363.83 84.14,364.43 84.76,365.02 85.39,365.61 86.01,366.21 86.64,366.81 87.26,367.41 87.89,368.02 88.51,368.63 89.14,369.24 89.76,369.87 90.39,370.49 91.01,371.12 91.64,371.77 92.27,372.41 92.89,373.07 93.52,373.73 94.14,374.41 94.77,375.09 95.39,375.78 96.02,376.49 96.64,377.2 97.27,377.93 97.89,378.67 98.52,379.42 99.14,380.19 99.77,380.97 100.4,381.76 101.02,382.57 101.65,383.4 102.27,384.24 102.9,385.1 103.52,385.97 104.15,386.87 104.77,387.78 105.4,388.71 106.02,389.66 106.65,390.63 107.27,391.61 107.9,392.61 108.53,393.62 109.15,394.64 109.78,395.66 110.4,396.69 111.03,397.73 111.65,398.76 112.28,399.79 112.9,400.83 113.53,401.85 114.15,402.87 114.78,403.88 115.4,404.87 116.03,405.85 116.66,406.82 117.28,407.77 117.91,408.7 118.53,409.6 119.16,410.48 119.78,411.33 120.41,412.16 121.03,412.95 121.66,413.71 122.28,414.44 122.91,415.13 123.53,415.78 124.16,416.38 124.79,416.95 125.41,417.47 126.04,417.94 126.66,418.35 127.29,418.72 127.91,419.03 128.54,419.29 129.16,419.49 129.79,419.63 130.41,419.72 131.04,419.75 131.67,419.72 132.29,419.64 132.92,419.5 133.54,419.31 134.17,419.06 134.79,418.76 135.42,418.4 136.04,417.99 136.67,417.53 137.29,417.02 137.92,416.45 138.54,415.83 139.17,415.16 139.8,414.44 140.42,413.67 141.05,412.85 141.67,411.98 142.3,411.06 142.92,410.09 143.55,409.07 144.17,408 144.8,406.89 145.42,405.72 146.05,404.51 146.67,403.25 147.3,401.95 147.93,400.6 148.55,399.2 149.18,397.76 149.8,396.28 150.43,394.74 151.05,393.17 151.68,391.55 152.3,389.89 152.93,388.2 153.55,386.48 154.18,384.74 154.8,382.97 155.43,381.18 156.06,379.39 156.68,377.59 157.31,375.78 157.93,373.98 158.56,372.18 159.18,370.39 159.81,368.62 160.43,366.86 161.06,365.14 161.68,363.43 162.31,361.77 162.93,360.14 163.56,358.55 164.19,357 164.81,355.51 165.44,354.07 166.06,352.7 166.69,351.38 167.31,350.14 167.94,348.97 168.56,347.87 169.19,346.86 169.81,345.93 170.44,345.1 171.06,344.36 171.69,343.72 172.32,343.18 172.94,342.76 173.57,342.44 174.19,342.25 174.82,342.16 175.44,342.18 176.07,342.31 176.69,342.53 177.32,342.84 177.94,343.23 178.57,343.7 179.19,344.24 179.82,344.85 180.45,345.52 181.07,346.24 181.7,347.02 182.32,347.83 182.95,348.68 183.57,349.57 184.2,350.47 184.82,351.4 185.45,352.34 186.07,353.29 186.7,354.25 187.32,355.19 187.95,356.13 188.58,357.05 189.2,357.96 189.83,358.83 190.45,359.67 191.08,360.47 191.7,361.23 192.33,361.94 192.95,362.59 193.58,363.18 194.2,363.7 194.83,364.15 195.45,364.51 196.08,364.8 196.71,364.99 197.33,365.09 197.96,365.1 198.58,365.04 199.21,364.9 199.83,364.68 200.46,364.4 201.08,364.06 201.71,363.66 202.33,363.21 202.96,362.71 203.58,362.16 204.21,361.58 204.84,360.97 205.46,360.32 206.09,359.65 206.71,358.96 207.34,358.26 207.96,357.54 208.59,356.82 209.21,356.1 209.84,355.39 210.46,354.68 211.09,353.98 211.72,353.31 212.34,352.65 212.97,352.03 213.59,351.43 214.22,350.88 214.84,350.36 215.47,349.89 216.09,349.47 216.72,349.11 217.34,348.81 217.97,348.57 218.59,348.41 219.22,348.32 219.85,348.3 220.47,348.36 221.1,348.48 221.72,348.68 222.35,348.93 222.97,349.25 223.6,349.61 224.22,350.03 224.85,350.5 225.47,351.02 226.1,351.57 226.72,352.16 227.35,352.79 227.98,353.44 228.6,354.12 229.23,354.83 229.85,355.56 230.48,356.3 231.1,357.05 231.73,357.82 232.35,358.58 232.98,359.36 233.6,360.13 234.23,360.89 234.85,361.65 235.48,362.39 236.11,363.12 236.73,363.83 237.36,364.51 237.98,365.17 238.61,365.8 239.23,366.4 239.86,366.96 240.48,367.48 241.11,367.96 241.73,368.38 242.36,368.76 242.98,369.09 243.61,369.38 244.24,369.61 244.86,369.81 245.49,369.97 246.11,370.08 246.74,370.16 247.36,370.21 247.99,370.22 248.61,370.2 249.24,370.16 249.86,370.09 250.49,369.99 251.11,369.87 251.74,369.73 252.37,369.57 252.99,369.4 253.62,369.21 254.24,369.01 254.87,368.79 255.49,368.57 256.12,368.35 256.74,368.11 257.37,367.88 257.99,367.65 258.62,367.41 259.24,367.18 259.87,366.96 260.5,366.74 261.12,366.54 261.75,366.34 262.37,366.16 263,365.99 263.62,365.84 264.25,365.71 264.87,365.61 265.5,365.52 266.12,365.46 266.75,365.41 267.37,365.39 268,365.39 268.63,365.41 269.25,365.46 269.88,365.52 270.5,365.6 271.13,365.71 271.75,365.83 272.38,365.98 273,366.14 273.63,366.33 274.25,366.53 274.88,366.76 275.5,367 276.13,367.27 276.76,367.55 277.38,367.85 278.01,368.18 278.63,368.52 279.26,368.88 279.88,369.26 280.51,369.65 281.13,370.07 281.76,370.5 282.38,370.95 283.01,371.42 283.63,371.91 284.26,372.42 284.89,372.94 285.51,373.48 286.14,374.04 286.76,374.61 287.39,375.21 288.01,375.81 288.64,376.44 289.26,377.08 289.89,377.73 290.51,378.4 291.14,379.09 291.77,379.78 292.39,380.49 293.02,381.21 293.64,381.94 294.27,382.68 294.89,383.43 295.52,384.19 296.14,384.95 296.77,385.73 297.39,386.51 298.02,387.3 298.64,388.09 299.27,388.89 299.9,389.7 300.52,390.5 301.15,391.31 301.77,392.13 302.4,392.94 303.02,393.76 303.65,394.58 304.27,395.4 304.9,396.21 305.52,397.03 306.15,397.84 306.77,398.66 307.4,399.46 308.03,400.27 308.65,401.07 309.28,401.87 309.9,402.66 310.53,403.44 311.15,404.22 311.78,404.99 312.4,405.76 313.03,406.52 313.65,407.28 314.28,408.03 314.9,408.77 315.53,409.51 316.16,410.25 316.78,410.98 317.41,411.71 318.03,412.44 318.66,413.16 319.28,413.87 319.91,414.59 320.53,415.3 321.16,416 321.78,416.71 322.41,417.41 323.03,418.11 323.66,418.8 324.29,419.5 324.91,420.19 325.54,420.88 326.16,421.56 326.79,422.25 327.41,422.93 328.04,423.61 328.66,424.3 329.29,424.98 329.91,425.66 330.54,426.33 331.16,427.01 331.79,427.69 332.42,428.37" fill="none" stroke="#a96ddc" stroke-width="2.5" stroke-linejoin="round" stroke-linecap="round"/>
<circle cx="82.88" cy="363.24" r="4" fill="#a96ddc"/><circle cx="81.88" cy="362.34" r="2.3" fill="url(#hl)"/>
<circle cx="105.57" cy="388.97" r="4" fill="#a96ddc"/><circle cx="104.57" cy="388.07" r="2.3" fill="url(#hl)"/>
<circle cx="128.25" cy="419.18" r="4" fill="#a96ddc"/><circle cx="127.25" cy="418.28" r="2.3" fill="url(#hl)"/>
<circle cx="150.94" cy="393.46" r="4" fill="#a96ddc"/><circle cx="149.94" cy="392.56" r="2.3" fill="url(#hl)"/>
<circle cx="173.62" cy="342.42" r="4" fill="#a96ddc"/><circle cx="172.62" cy="341.52" r="2.3" fill="url(#hl)"/>
<circle cx="196.31" cy="364.88" r="4" fill="#a96ddc"/><circle cx="195.31" cy="363.98" r="2.3" fill="url(#hl)"/>
<circle cx="218.99" cy="348.34" r="4" fill="#a96ddc"/><circle cx="217.99" cy="347.44" r="2.3" fill="url(#hl)"/>
<circle cx="241.68" cy="368.35" r="4" fill="#a96ddc"/><circle cx="240.68" cy="367.45" r="2.3" fill="url(#hl)"/>
<circle cx="264.36" cy="365.69" r="4" fill="#a96ddc"/><circle cx="263.36" cy="364.79" r="2.3" fill="url(#hl)"/>
<circle cx="287.05" cy="374.88" r="4" fill="#a96ddc"/><circle cx="286.05" cy="373.98" r="2.3" fill="url(#hl)"/>
<circle cx="309.73" cy="402.44" r="4" fill="#a96ddc"/><circle cx="308.73" cy="401.54" r="2.3" fill="url(#hl)"/>
<circle cx="332.42" cy="428.37" r="4" fill="#a96ddc"/><circle cx="331.42" cy="427.47" r="2.3" fill="url(#hl)"/>
<path d="M255.1 356.6H308.7" stroke="#a96ddc" stroke-width="2.4"/>
<circle cx="281.6" cy="356.6" r="4" fill="#a96ddc"/><circle cx="280.6" cy="355.7" r="2.3" fill="url(#hl)"/>
<text x="314" y="364.1">E</text>
<rect x="307.5" y="343.6" width="20.7" height="2" fill="#000"/>
<path d="M388.1 330.6V465.1" stroke="#505050" stroke-width="1.5"/>
<path d="M681.4 330.6V465.1" stroke="#444" stroke-width="1.4"/>
<path d="M387.35 331.3H682.1" stroke="#333" stroke-width="1.4"/>
<path d="M387.35 464.4H682.1" stroke="#2e2e2e" stroke-width="1.4"/>
<path d="M410.72 464.3v-2.2M433.25 464.3v-3.2M455.77 464.3v-2.2M478.29 464.3v-3.2M500.82 464.3v-2.2M523.34 464.3v-3.2M545.86 464.3v-2.2M568.38 464.3v-3.2M590.91 464.3v-2.2M613.43 464.3v-3.2M635.95 464.3v-2.2M658.48 464.3v-3.2M681 464.3v-2.2M388.2 454.06h3.2M388.2 433.58h2.2M388.2 413.11h3.2M388.2 392.63h2.2M388.2 372.15h3.2M388.2 351.68h2.2" stroke="#3a3a3a" stroke-width="1.1" fill="none"/>
<text x="388.2" y="484.9" text-anchor="middle">0</text>
<text x="433.25" y="484.9" text-anchor="middle">1</text>
<text x="478.29" y="484.9" text-anchor="middle">2</text>
<text x="523.34" y="484.9" text-anchor="middle">3</text>
<text x="568.38" y="484.9" text-anchor="middle">4</text>
<text x="613.43" y="484.9" text-anchor="middle">5</text>
<text x="658.48" y="484.9" text-anchor="middle">6</text>
<text x="384.8" y="461.26" text-anchor="end">0</text>
<text x="384.8" y="420.31" text-anchor="end">20</text>
<text x="384.8" y="379.35" text-anchor="end">40</text>
<text x="384.8" y="338.4" text-anchor="end">60</text>
<polyline points="410.72,422.73 411.34,423.22 411.96,423.7 412.59,424.19 413.21,424.67 413.83,425.16 414.45,425.65 415.07,426.13 415.69,426.62 416.31,427.1 416.93,427.59 417.55,428.07 418.17,428.55 418.8,429.04 419.42,429.52 420.04,430 420.66,430.49 421.28,430.97 421.9,431.45 422.52,431.93 423.14,432.41 423.76,432.89 424.38,433.37 425,433.85 425.63,434.33 426.25,434.81 426.87,435.28 427.49,435.76 428.11,436.23 428.73,436.71 429.35,437.18 429.97,437.66 430.59,438.13 431.21,438.6 431.83,439.07 432.46,439.54 433.08,440.01 433.7,440.48 434.32,440.94 434.94,441.41 435.56,441.87 436.18,442.32 436.8,442.77 437.42,443.21 438.04,443.65 438.67,444.08 439.29,444.49 439.91,444.9 440.53,445.3 441.15,445.68 441.77,446.05 442.39,446.41 443.01,446.75 443.63,447.07 444.25,447.38 444.87,447.66 445.5,447.93 446.12,448.18 446.74,448.41 447.36,448.62 447.98,448.8 448.6,448.96 449.22,449.09 449.84,449.2 450.46,449.28 451.08,449.34 451.7,449.36 452.33,449.35 452.95,449.32 453.57,449.25 454.19,449.15 454.81,449.01 455.43,448.84 456.05,448.64 456.67,448.4 457.29,448.13 457.91,447.82 458.54,447.49 459.16,447.13 459.78,446.74 460.4,446.33 461.02,445.9 461.64,445.45 462.26,444.98 462.88,444.5 463.5,444 464.12,443.49 464.74,442.98 465.37,442.45 465.99,441.92 466.61,441.39 467.23,440.86 467.85,440.32 468.47,439.79 469.09,439.27 469.71,438.75 470.33,438.24 470.95,437.74 471.57,437.26 472.2,436.79 472.82,436.34 473.44,435.9 474.06,435.49 474.68,435.1 475.3,434.73 475.92,434.39 476.54,434.08 477.16,433.8 477.78,433.56 478.41,433.34 479.03,433.17 479.65,433.03 480.27,432.92 480.89,432.85 481.51,432.81 482.13,432.8 482.75,432.81 483.37,432.86 483.99,432.93 484.61,433.03 485.24,433.15 485.86,433.3 486.48,433.46 487.1,433.65 487.72,433.86 488.34,434.08 488.96,434.32 489.58,434.58 490.2,434.85 490.82,435.14 491.44,435.44 492.07,435.74 492.69,436.06 493.31,436.39 493.93,436.72 494.55,437.06 495.17,437.4 495.79,437.75 496.41,438.1 497.03,438.45 497.65,438.81 498.28,439.15 498.9,439.5 499.52,439.85 500.14,440.18 500.76,440.52 501.38,440.84 502,441.16 502.62,441.47 503.24,441.77 503.86,442.07 504.48,442.36 505.11,442.65 505.73,442.92 506.35,443.2 506.97,443.46 507.59,443.72 508.21,443.98 508.83,444.22 509.45,444.47 510.07,444.71 510.69,444.94 511.31,445.17 511.94,445.4 512.56,445.62 513.18,445.83 513.8,446.04 514.42,446.25 515.04,446.46 515.66,446.66 516.28,446.86 516.9,447.05 517.52,447.25 518.15,447.44 518.77,447.62 519.39,447.81 520.01,447.99 520.63,448.17 521.25,448.35 521.87,448.53 522.49,448.7 523.11,448.88 523.73,449.05 524.35,449.22 524.98,449.4 525.6,449.57 526.22,449.73 526.84,449.9 527.46,450.06 528.08,450.22 528.7,450.38 529.32,450.54 529.94,450.69 530.56,450.84 531.18,450.99 531.81,451.13 532.43,451.27 533.05,451.41 533.67,451.54 534.29,451.67 534.91,451.79 535.53,451.91 536.15,452.02 536.77,452.13 537.39,452.24 538.02,452.34 538.64,452.43 539.26,452.52 539.88,452.6 540.5,452.67 541.12,452.74 541.74,452.8 542.36,452.86 542.98,452.91 543.6,452.95 544.22,452.98 544.85,453.01 545.47,453.03 546.09,453.04 546.71,453.04 547.33,453.04 547.95,453.03 548.57,453.01 549.19,452.99 549.81,452.96 550.43,452.92 551.05,452.88 551.68,452.84 552.3,452.79 552.92,452.73 553.54,452.67 554.16,452.61 554.78,452.55 555.4,452.48 556.02,452.42 556.64,452.35 557.26,452.27 557.89,452.2 558.51,452.13 559.13,452.06 559.75,451.98 560.37,451.91 560.99,451.84 561.61,451.77 562.23,451.7 562.85,451.63 563.47,451.57 564.09,451.51 564.72,451.45 565.34,451.4 565.96,451.35 566.58,451.3 567.2,451.26 567.82,451.22 568.44,451.19 569.06,451.17 569.68,451.15 570.3,451.13 570.92,451.13 571.55,451.12 572.17,451.12 572.79,451.13 573.41,451.13 574.03,451.15 574.65,451.16 575.27,451.18 575.89,451.2 576.51,451.22 577.13,451.25 577.76,451.28 578.38,451.31 579,451.34 579.62,451.37 580.24,451.4 580.86,451.43 581.48,451.47 582.1,451.5 582.72,451.53 583.34,451.57 583.96,451.6 584.59,451.63 585.21,451.66 585.83,451.68 586.45,451.71 587.07,451.73 587.69,451.75 588.31,451.77 588.93,451.79 589.55,451.8 590.17,451.8 590.79,451.81 591.42,451.81 592.04,451.8 592.66,451.8 593.28,451.78 593.9,451.77 594.52,451.75 595.14,451.73 595.76,451.71 596.38,451.68 597,451.65 597.63,451.62 598.25,451.59 598.87,451.56 599.49,451.53 600.11,451.49 600.73,451.46 601.35,451.42 601.97,451.38 602.59,451.35 603.21,451.31 603.83,451.28 604.46,451.24 605.08,451.21 605.7,451.18 606.32,451.15 606.94,451.12 607.56,451.09 608.18,451.07 608.8,451.05 609.42,451.03 610.04,451.01 610.66,451 611.29,450.99 611.91,450.99 612.53,450.98 613.15,450.99 613.77,450.99 614.39,451.01 615.01,451.02 615.63,451.04 616.25,451.07 616.87,451.09 617.5,451.12 618.12,451.16 618.74,451.2 619.36,451.24 619.98,451.28 620.6,451.32 621.22,451.37 621.84,451.42 622.46,451.47 623.08,451.53 623.7,451.58 624.33,451.64 624.95,451.7 625.57,451.76 626.19,451.82 626.81,451.88 627.43,451.94 628.05,452 628.67,452.06 629.29,452.13 629.91,452.19 630.53,452.25 631.16,452.31 631.78,452.37 632.4,452.43 633.02,452.48 633.64,452.54 634.26,452.59 634.88,452.64 635.5,452.7 636.12,452.74 636.74,452.79 637.37,452.83 637.99,452.87 638.61,452.91 639.23,452.95 639.85,452.99 640.47,453.02 641.09,453.05 641.71,453.08 642.33,453.11 642.95,453.14 643.57,453.16 644.2,453.18 644.82,453.21 645.44,453.23 646.06,453.25 646.68,453.26 647.3,453.28 647.92,453.3 648.54,453.31 649.16,453.32 649.78,453.34 650.4,453.35 651.03,453.36 651.65,453.37 652.27,453.38 652.89,453.39 653.51,453.4 654.13,453.4 654.75,453.41 655.37,453.42 655.99,453.42 656.61,453.43 657.24,453.44 657.86,453.44 658.48,453.45" fill="none" stroke="#cc9a06" stroke-width="2.5" stroke-linejoin="round" stroke-linecap="round"/>
<circle cx="410.72" cy="422.73" r="4" fill="#cc9a06"/><circle cx="409.72" cy="421.83" r="2.3" fill="url(#hl)"/>
<circle cx="433.25" cy="440.14" r="4" fill="#cc9a06"/><circle cx="432.25" cy="439.24" r="2.3" fill="url(#hl)"/>
<circle cx="455.77" cy="448.74" r="4" fill="#cc9a06"/><circle cx="454.77" cy="447.84" r="2.3" fill="url(#hl)"/>
<circle cx="478.29" cy="433.38" r="4" fill="#cc9a06"/><circle cx="477.29" cy="432.48" r="2.3" fill="url(#hl)"/>
<circle cx="500.82" cy="440.55" r="4" fill="#cc9a06"/><circle cx="499.82" cy="439.65" r="2.3" fill="url(#hl)"/>
<circle cx="523.34" cy="448.94" r="4" fill="#cc9a06"/><circle cx="522.34" cy="448.04" r="2.3" fill="url(#hl)"/>
<circle cx="545.86" cy="453.04" r="4" fill="#cc9a06"/><circle cx="544.86" cy="452.14" r="2.3" fill="url(#hl)"/>
<circle cx="568.38" cy="451.19" r="4" fill="#cc9a06"/><circle cx="567.38" cy="450.29" r="2.3" fill="url(#hl)"/>
<circle cx="590.91" cy="451.81" r="4" fill="#cc9a06"/><circle cx="589.91" cy="450.91" r="2.3" fill="url(#hl)"/>
<circle cx="613.43" cy="450.99" r="4" fill="#cc9a06"/><circle cx="612.43" cy="450.09" r="2.3" fill="url(#hl)"/>
<circle cx="635.95" cy="452.73" r="4" fill="#cc9a06"/><circle cx="634.95" cy="451.83" r="2.3" fill="url(#hl)"/>
<circle cx="658.48" cy="453.45" r="4" fill="#cc9a06"/><circle cx="657.48" cy="452.55" r="2.3" fill="url(#hl)"/>
<path d="M577.2 356.3H631.1" stroke="#cc9a06" stroke-width="2.4"/>
<circle cx="603.8" cy="356.3" r="4" fill="#cc9a06"/><circle cx="602.8" cy="355.4" r="2.3" fill="url(#hl)"/>
<text x="635.9" y="364.1">F</text>
<rect x="630" y="343.6" width="18.8" height="2" fill="#000"/>
<text class="bl" x="141" y="514.3" textLength="120.3" lengthAdjust="spacingAndGlyphs">Height(m)</text>
<rect x="140.6" y="489.1" width="121.9" height="2.8" fill="#000"/>
<text class="bl" x="465.4" y="513.5" textLength="120.3" lengthAdjust="spacingAndGlyphs">Height(m)</text>
<rect x="465.2" y="488.2" width="121.4" height="2.8" fill="#000"/>
<text class="bl" transform="translate(25.2 364) rotate(-90)" textLength="253.5" lengthAdjust="spacingAndGlyphs">Droplets Coverage %</text>
<rect x="0" y="111" width="2.4" height="254.4" fill="#000"/>
</g>
</svg>
</body></html>
